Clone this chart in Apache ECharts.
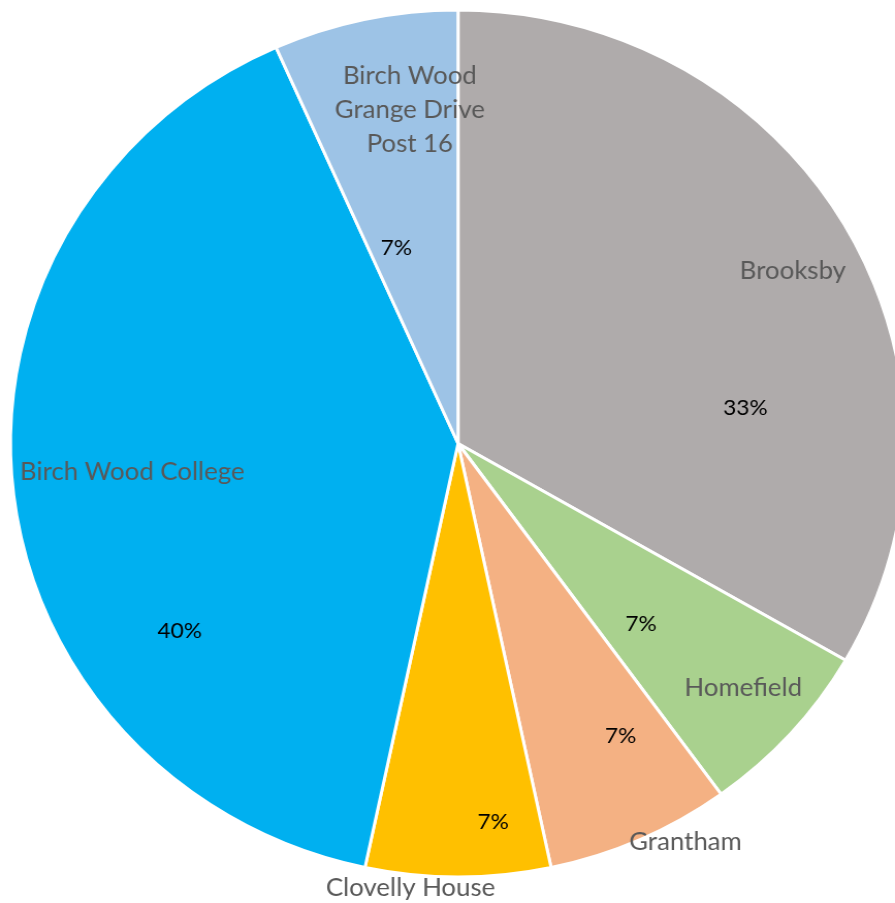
<!DOCTYPE html>
<html>
<head>
<meta charset="utf-8">
<script src="https://cdn.jsdelivr.net/npm/echarts@6/dist/echarts.min.js"></script>
<style>
  html, body { margin: 0; padding: 0; background: #ffffff; overflow: hidden; }
  #wrap { width: 895px; height: 903px; overflow: hidden; position: relative; }
  #chart { width: 867px; height: 903px; transform: scaleX(1.0323); transform-origin: 0 0; }
</style>
</head>
<body>
<div id="wrap"><div id="chart"></div></div>
<script>
// ---- data ----
const categories = ['Brooksby', 'Homefield', 'Grantham', 'Clovelly House', 'Birch Wood College', 'Birch Wood\nGrange Drive\nPost 16'];
const values = [5, 1, 1, 1, 6, 1];
const colors = ['#AFABAB', '#A9D18E', '#F4B183', '#FFC000', '#00B0F0', '#9DC3E6'];

// ---- label offsets (from default inside position) ----
const nameOffsets = [[134, -63], [113, 97], [131, 198], [-46, 225], [-97, 5], [-1, -119]];
const pctOffsets = [[88, 74], [14, 33], [68, 92], [34, 159], [-51, 164], [-14, 19]];

const chart = echarts.init(document.getElementById('chart'), null, { renderer: 'canvas' });

const pieData = categories.map((c, i) => ({ name: c, value: values[i], itemStyle: { color: colors[i] } }));
const center = [443.7, 443.5];
const radius = 433.5;

chart.setOption({
  animation: false,
  backgroundColor: '#ffffff',
  series: [
    {
      type: 'pie',
      center: center,
      radius: radius,
      startAngle: 90,
      clockwise: true,
      avoidLabelOverlap: false,
      itemStyle: { borderColor: '#ffffff', borderWidth: 3 },
      label: {
        show: true,
        position: 'inside',
        formatter: p => p.name,
        color: '#595959',
        fontFamily: 'Lato',
        fontSize: 25,
        lineHeight: 34
      },
      labelLine: { show: false },
      labelLayout: p => ({ dx: nameOffsets[p.dataIndex][0], dy: nameOffsets[p.dataIndex][1] }),
      emphasis: { disabled: true },
      data: pieData
    },
    {
      type: 'pie',
      center: center,
      radius: radius,
      startAngle: 90,
      clockwise: true,
      silent: true,
      avoidLabelOverlap: false,
      itemStyle: { color: 'rgba(0,0,0,0)', borderWidth: 0 },
      label: {
        show: true,
        position: 'inside',
        formatter: p => Math.round(p.percent) + '%',
        color: '#000000',
        fontFamily: 'Lato',
        fontSize: 22
      },
      labelLine: { show: false },
      labelLayout: p => ({ dx: pctOffsets[p.dataIndex][0], dy: pctOffsets[p.dataIndex][1] }),
      emphasis: { disabled: true },
      data: categories.map((c, i) => ({ name: c, value: values[i] }))
    }
  ]
});
</script>
</body>
</html>
